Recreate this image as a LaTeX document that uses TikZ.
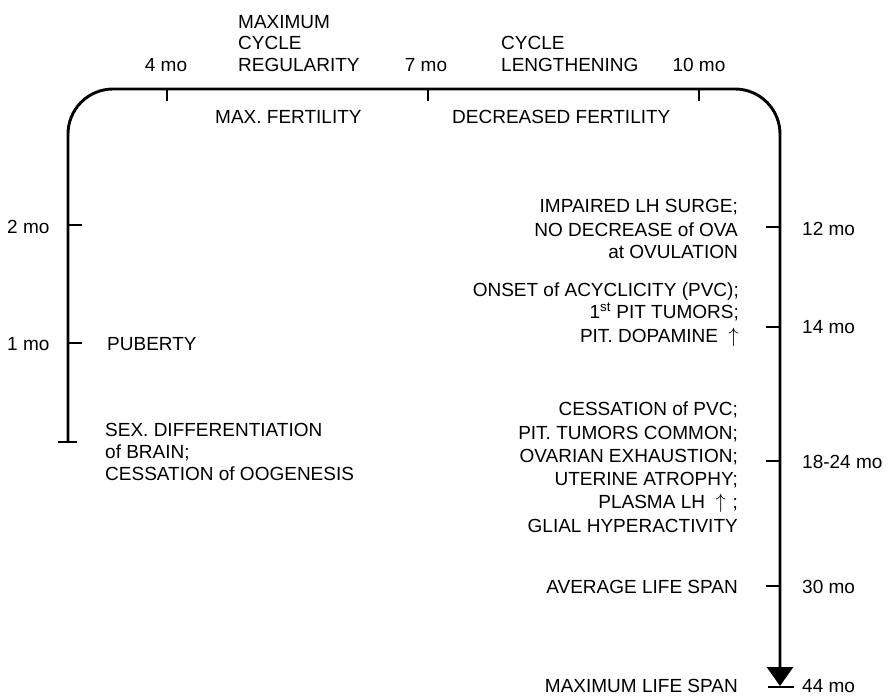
\documentclass[tikz,border=0pt]{standalone}
\usepackage{fontspec}
\setmainfont{Liberation Sans}
\usetikzlibrary{arrows.meta}
\newcommand{\uparr}{\smash{\fontsize{20}{20}\selectfont$\uparrow$}}
\begin{document}
\begin{tikzpicture}[x=1pt,y=-1pt,
  axis/.style={line width=2.9pt},
  tickmark/.style={line width=2.9pt},
  lbl/.style={inner sep=0pt, font=\fontsize{19}{23}\selectfont},
  lw/.style={lbl, anchor=base west},
  le/.style={lbl, anchor=base east},
  lc/.style={lbl, anchor=base}]
\useasboundingbox (0,0) rectangle (894,696);

% time axis: up the left side, across the top, down the right side
\coordinate (start) at (68,442);
\coordinate (tl) at (68,89);
\coordinate (tr) at (780,89);
\coordinate (end) at (780,686);
\draw[axis, rounded corners=45pt, -{Triangle[width=26pt,length=19pt]}]
  (start) -- (tl) -- (tr) -- (end);

% end bars
\coordinate (b0) at (58,442);
\coordinate (b1) at (77,442);
\draw[tickmark] (b0) -- (b1);
\coordinate (e0) at (768,687);
\coordinate (e1) at (794,687);
\draw[tickmark] (e0) -- (e1);

% ticks on the left side
\coordinate (m2) at (68,225);
\coordinate (m1) at (68,343);
\draw[tickmark] (m2) -- ++(14,0);
\draw[tickmark] (m1) -- ++(14,0);
% ticks on the top
\coordinate (m4) at (167,89);
\coordinate (m7) at (428,89);
\coordinate (m10) at (699,89);
\draw[tickmark] (m4) -- ++(0,12);
\draw[tickmark] (m7) -- ++(0,12);
\draw[tickmark] (m10) -- ++(0,12);
% ticks on the right side
\coordinate (m12) at (780,227);
\coordinate (m14) at (780,327);
\coordinate (m18) at (780,461);
\coordinate (m30) at (780,586);
\draw[tickmark] (m12) -- ++(-14,0);
\draw[tickmark] (m14) -- ++(-14,0);
\draw[tickmark] (m18) -- ++(-14,0);
\draw[tickmark] (m30) -- ++(-14,0);

% top labels
\node[lc] (l4) at (166,71) {4 mo};
\node[lc] (l7) at (426,71) {7 mo};
\node[lc] (l10) at (699,71) {10 mo};
\node[lw] (mx1) at (238,28) {MAXIMUM};
\node[lw] (mx2) at (238,49.5) {CYCLE};
\node[lw] (mx3) at (238,71) {REGULARITY};
\node[lw] (cl1) at (501,49.5) {CYCLE};
\node[lw] (cl2) at (501,71) {LENGTHENING};
\node[lw] (mf) at (215,123) {MAX. FERTILITY};
\node[lw] (df) at (452,123) {DECREASED FERTILITY};

% left labels
\node[lw] (l2) at (7,233) {2 mo};
\node[lw] (l1) at (7,350) {1 mo};
\node[lw] (pub) at (107,350) {PUBERTY};
\node[lw] (sx1) at (105,436) {SEX. DIFFERENTIATION};
\node[lw] (sx2) at (105,458) {of BRAIN;};
\node[lw] (sx3) at (105,480) {CESSATION of OOGENESIS};

% right-hand events
\node[le] (ia) at (738,212) {IMPAIRED LH SURGE;};
\node[le] (ib) at (738,236) {NO DECREASE of OVA};
\node[le] (ic) at (738,258) {at OVULATION};
\node[le] (oa) at (739,296) {ONSET of ACYCLICITY (PVC);};
\node[le] (ob) at (739,318) {1\textsuperscript{st} PIT TUMORS;};
\node[le] (oc) at (739,342) {PIT. DOPAMINE\hspace{0.55em}\uparr};
\node[le] (ca) at (738,415) {CESSATION of PVC;};
\node[le] (cb) at (738,439) {PIT. TUMORS COMMON;};
\node[le] (cc) at (738,462) {OVARIAN EXHAUSTION;};
\node[le] (cd) at (738,485) {UTERINE ATROPHY;};
\node[le] (ce) at (738,508) {PLASMA LH\hspace{0.55em}\uparr\hspace{0.35em};};
\node[le] (cf) at (738,532) {GLIAL HYPERACTIVITY};
\node[le] (avg) at (738,593) {AVERAGE LIFE SPAN};
\node[le] (mls) at (738,692) {MAXIMUM LIFE SPAN};

% right-hand ages
\node[lw] (l12) at (802,235) {12 mo};
\node[lw] (l14) at (802,333) {14 mo};
\node[lw] (l18) at (802,468) {18-24 mo};
\node[lw] (l30) at (802,593) {30 mo};
\node[lw] (l44) at (802,692) {44 mo};
\end{tikzpicture}
\end{document}
